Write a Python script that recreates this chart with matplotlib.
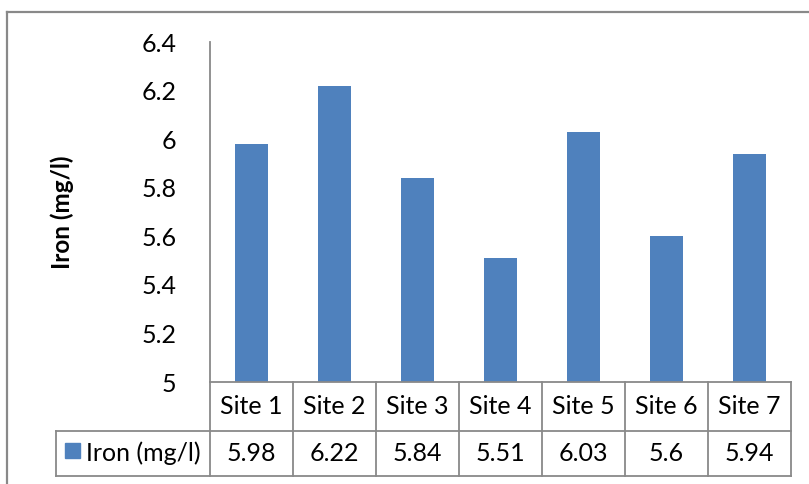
import matplotlib
matplotlib.use("Agg")
import matplotlib.pyplot as plt
from matplotlib.lines import Line2D
from matplotlib.patches import Rectangle

sites = ["Site 1", "Site 2", "Site 3", "Site 4", "Site 5", "Site 6", "Site 7"]
iron = [5.98, 6.22, 5.84, 5.51, 6.03, 5.6, 5.94]
iron_labels = ["5.98", "6.22", "5.84", "5.51", "6.03", "5.6", "5.94"]
series_name = "Iron (mg/l)"
y_ticks = [5, 5.2, 5.4, 5.6, 5.8, 6, 6.2, 6.4]
y_tick_labels = ["5", "5.2", "5.4", "5.6", "5.8", "6", "6.2", "6.4"]

plt.rcParams["font.family"] = ["Lato", "DejaVu Sans"]

W, H = 809, 484
fig = plt.figure(figsize=(W / 100, H / 100), dpi=100)

BAR = "#4F81BD"
GRID = "#898989"
FS = 18

def fx(px):
    return px / W

def fy(py):
    return 1 - py / H

# outer chart frame (extends past right and bottom edges)
fig.add_artist(Line2D([fx(7), fx(7)], [fy(12), fy(490)], color=GRID, lw=1.6,
                      transform=fig.transFigure))
fig.add_artist(Line2D([fx(7), fx(815)], [fy(12), fy(12)], color=GRID, lw=1.6,
                      transform=fig.transFigure))

left, right, top, bottom = 210, 791, 42, 382
ax = fig.add_axes([fx(left), fy(bottom), fx(right) - fx(left), fy(top) - fy(bottom)])
n = len(sites)
x = list(range(n))
ax.bar(x, iron, width=0.4, color=BAR, zorder=2)
ax.set_xlim(-0.5, n - 0.5)
ax.set_ylim(5, 6.4)
ax.set_yticks(y_ticks)
ax.set_yticklabels(y_tick_labels, fontsize=FS)
ax.tick_params(axis="y", length=0, pad=24)
ax.set_xticks([])
for s in ["top", "right", "bottom"]:
    ax.spines[s].set_visible(False)
ax.spines["left"].set_color(GRID)
ax.spines["left"].set_linewidth(1.3)
ax.set_ylabel(series_name, fontsize=17.5, fontweight="bold")
ax.yaxis.set_label_coords(fx(62) - fx(left), 0.5, transform=None)
ax.yaxis.label.set_transform(fig.transFigure)
ax.yaxis.label.set_position((fx(62), fy(212)))
ax.yaxis.label.set_va("center")

# data table below the plot
row1_top, row1_bot, row2_bot = 382, 431, 476
legend_left = 56
col_w = (right - left) / n
lw = 1.3

def hline(x0, x1, y):
    fig.add_artist(Line2D([fx(x0), fx(x1)], [fy(y), fy(y)], color=GRID, lw=lw,
                          transform=fig.transFigure))

def vline(xp, y0, y1):
    fig.add_artist(Line2D([fx(xp), fx(xp)], [fy(y0), fy(y1)], color=GRID, lw=lw,
                          transform=fig.transFigure))

hline(left, right, row1_top)
hline(legend_left, right, row1_bot)
hline(legend_left, right, row2_bot)
vline(legend_left, row1_bot, row2_bot)
for i in range(n + 1):
    vline(left + i * col_w, row1_top, row2_bot)

for i in range(n):
    cx = fx(left + (i + 0.5) * col_w)
    fig.text(cx, fy((row1_top + row1_bot) / 2), sites[i], ha="center", va="center",
             fontsize=FS)
    fig.text(cx, fy((row1_bot + row2_bot) / 2), iron_labels[i], ha="center",
             va="center", fontsize=FS)

# legend key inside the first table column
fig.add_artist(Rectangle((fx(65), fy(458)), fx(15), fy(443) - fy(458), color=BAR,
                         transform=fig.transFigure))
fig.text(fx(86), fy((row1_bot + row2_bot) / 2), series_name, ha="left", va="center",
         fontsize=FS)

fig.savefig("out.png", dpi=100)
